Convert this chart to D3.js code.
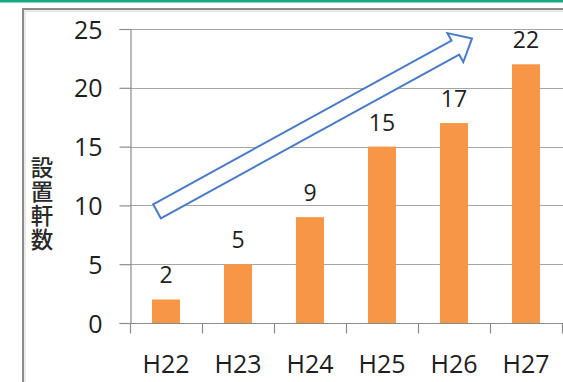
<!DOCTYPE html>
<html>
<head>
<meta charset="utf-8">
<script src="https://cdn.jsdelivr.net/npm/d3@7"></script>
<style>
  html, body { margin: 0; padding: 0; background: #fff; }
  svg { display: block; }
</style>
</head>
<body>
<svg id="chart" width="563" height="382"></svg>
<script>
// Installations per fiscal year
const categories = ["H22", "H23", "H24", "H25", "H26", "H27"];
const counts = [2, 5, 9, 15, 17, 22];
const yTicks = [0, 5, 10, 15, 20, 25];
const yTitle = "設置軒数";

// Trend arrow, in (category index, value) units
const trendFrom = [-0.125, 9.5];
const trendTo = [4.25, 24.2];

const W = 563, H = 382;
const svg = d3.select("#chart");
const font = "'Open Sans', 'Noto Sans', sans-serif";

// top accent rule
svg.append("rect").attr("x", 0).attr("y", 0).attr("width", W).attr("height", 2.5)
  .attr("fill", "#1aa883");

// outer frame
svg.append("rect").attr("x", 23).attr("y", 9).attr("width", W + 10).attr("height", H + 10)
  .attr("fill", "none").attr("stroke", "#8c8c8c").attr("stroke-width", 2);
svg.append("rect").attr("x", 25).attr("y", 11).attr("width", W + 10).attr("height", H + 10)
  .attr("fill", "none").attr("stroke", "#e2e2e2").attr("stroke-width", 1.5);

const x0 = 130, x1 = 562, yTop = 29, yBot = 323;
const x = d3.scaleBand().domain(categories).range([x0, x1]).padding(0);
const y = d3.scaleLinear().domain([0, 25]).range([yBot, yTop]);
const step = x.step();
const xi = i => x0 + step * (i + 0.5);

// gridlines
svg.append("g").selectAll("line").data(yTicks.filter(v => v > 0)).join("line")
  .attr("x1", x0).attr("x2", W + 2)
  .attr("y1", d => Math.round(y(d)) + 0.5).attr("y2", d => Math.round(y(d)) + 0.5)
  .attr("stroke", "#a6a6a6").attr("stroke-width", 1.2);

// y axis
const yAxis = svg.append("g").attr("transform", `translate(${x0 + 0.5},0)`)
  .call(d3.axisLeft(y).tickValues(yTicks).tickSize(11).tickPadding(17));
yAxis.select(".domain").attr("stroke", "#8c8c8c").attr("stroke-width", 1.2);
yAxis.selectAll(".tick line").attr("stroke", "#8c8c8c").attr("stroke-width", 1.2);
yAxis.selectAll(".tick text").attr("font-family", font).attr("font-size", 25)
  .attr("fill", "#1e1e1e").attr("dy", "0.36em");

// x axis with ticks at category boundaries
const xAxisG = svg.append("g").attr("transform", `translate(0,${yBot + 0.5})`);
xAxisG.append("line").attr("x1", x0).attr("x2", W + 2).attr("y1", 0).attr("y2", 0)
  .attr("stroke", "#8c8c8c").attr("stroke-width", 1.2);
const bounds = categories.map(c => x(c)).concat([x1]);
xAxisG.selectAll("line.tk").data(bounds).join("line").attr("class", "tk")
  .attr("x1", d => d + 0.5).attr("x2", d => d + 0.5).attr("y1", 0).attr("y2", 10)
  .attr("stroke", "#8c8c8c").attr("stroke-width", 1.2);
xAxisG.selectAll("text").data(categories).join("text")
  .attr("x", d => x(d) + step / 2).attr("y", 49)
  .attr("text-anchor", "middle").attr("font-family", font).attr("font-size", 25)
  .attr("fill", "#1e1e1e").text(d => d);

// bars
const barW = step * 0.39;
svg.append("g").selectAll("rect").data(categories).join("rect")
  .attr("x", d => x(d) + (step - barW) / 2)
  .attr("y", (d, i) => y(counts[i]))
  .attr("width", barW)
  .attr("height", (d, i) => y(0) - y(counts[i]))
  .attr("fill", "#f79646");

// value labels
svg.append("g").selectAll("text").data(categories).join("text")
  .attr("x", d => x(d) + step / 2)
  .attr("y", (d, i) => y(counts[i]) - 16)
  .attr("text-anchor", "middle").attr("font-family", font).attr("font-size", 23)
  .attr("fill", "#1e1e1e").text((d, i) => counts[i]);

// y title, written top to bottom
svg.append("text")
  .attr("x", 42).attr("y", 156)
  .style("writing-mode", "vertical-rl")
  .attr("letter-spacing", 1.5)
  .attr("font-family", "'Noto Sans CJK JP', sans-serif")
  .attr("font-weight", 500)
  .attr("font-size", 22.5).attr("fill", "#2a2a2a").text(yTitle);

// trend block arrow
const p0 = [xi(trendFrom[0]), y(trendFrom[1])];
const p1 = [xi(trendTo[0]), y(trendTo[1])];
const dx = p1[0] - p0[0], dy = p1[1] - p0[1];
const len = Math.hypot(dx, dy);
const ux = dx / len, uy = dy / len, nx = -uy, ny = ux;
const shaftHalf = 8, headHalf = 16.5, headLen = 19;
const at = (s, t) => [p0[0] + ux * s + nx * t, p0[1] + uy * s + ny * t];
const pts = [
  at(0, -shaftHalf), at(len - headLen, -shaftHalf), at(len - headLen, -headHalf),
  at(len, 0),
  at(len - headLen, headHalf), at(len - headLen, shaftHalf), at(0, shaftHalf)
];
svg.append("path").attr("d", d3.line()(pts) + "Z")
  .attr("fill", "#fff").attr("stroke", "#4a7bc4").attr("stroke-width", 2)
  .attr("stroke-linejoin", "miter");
</script>
</body>
</html>
